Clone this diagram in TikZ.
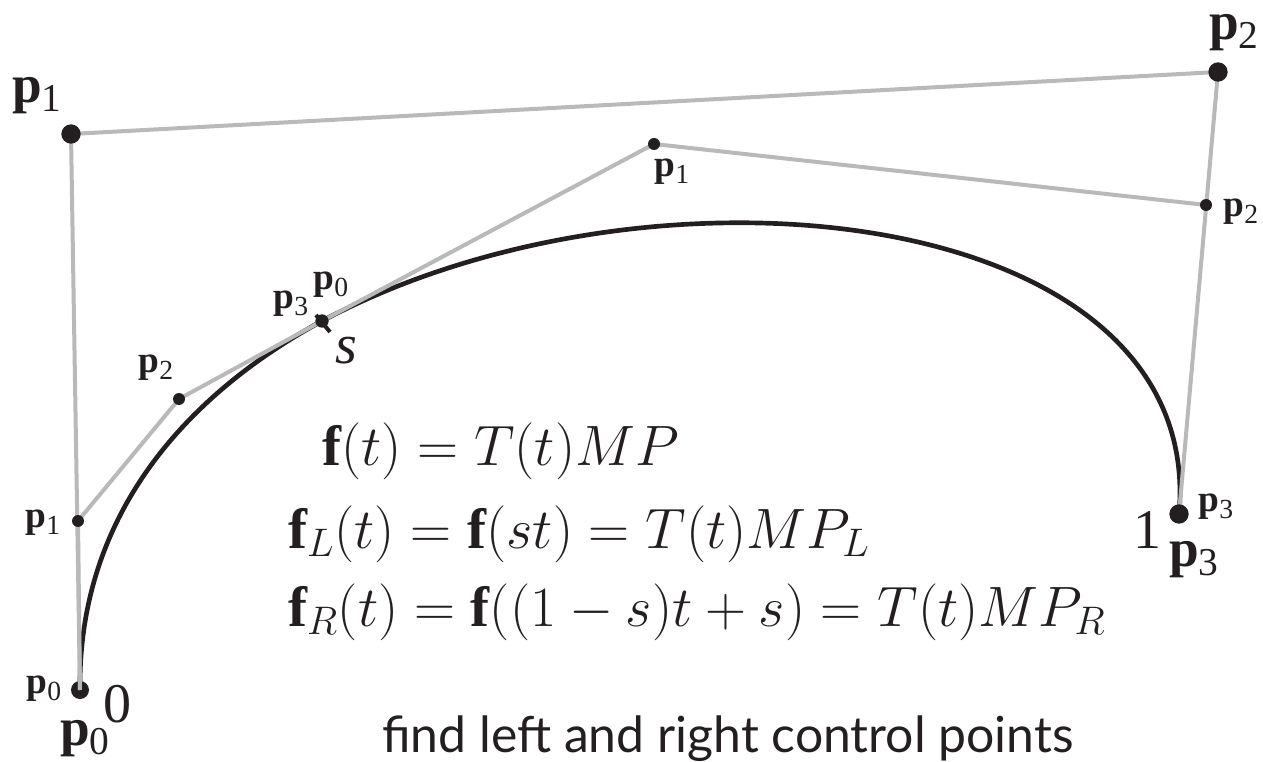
\RequirePackage{fix-cm}
\documentclass[tikz,border=0pt]{standalone}
\usepackage{amsmath}
\usepackage{fontspec}
\setmainfont{Liberation Serif}
\newfontfamily\capfont{Lato}
\newcommand{\ptlab}[1]{\textbf{p}\raisebox{-0.17em}{\scalebox{0.74}{#1}}}
\definecolor{ctrlgray}{HTML}{B9B9BC}
\definecolor{ink}{HTML}{231F20}
\tikzset{
 ctrl/.style={line width=3pt,draw=ctrlgray,line join=round},
 curve/.style={line width=3.5pt,draw=ink},
 big/.style={circle,fill=ink,inner sep=0pt,minimum size=13.5pt},
 small/.style={circle,fill=ink,inner sep=0pt,minimum size=9pt},
 bl/.style={inner sep=0pt,text=ink,font=\fontsize{40}{44}\selectfont},
 sl/.style={inner sep=0pt,text=ink,font=\fontsize{28}{32}\selectfont},
 num/.style={inner sep=0pt,text=ink,font=\fontsize{42}{46}\selectfont},
 eq/.style={inner sep=0pt,anchor=base west,text=ink,font=\fontsize{42.7}{50}\selectfont},
}
\begin{document}
\begin{tikzpicture}[x=0.75pt,y=-0.75pt]
\useasboundingbox (0,0) rectangle (1263,762);
\coordinate (A0) at (80,690); \coordinate (A1) at (71,134); \coordinate (A2) at (1218,72); \coordinate (A3) at (1179,514);
\coordinate (L1) at (78,521); \coordinate (L2) at (179,399); \coordinate (M) at (322,321);
\coordinate (R1) at (654,144); \coordinate (R2) at (1206,205);
\coordinate (T1) at (316,315); \coordinate (T2) at (330,332);
\node[big] (n0) at (A0){};
\draw[curve] (A0) .. controls (L1) and (L2) .. (M) .. controls (R1) and (R2) .. (A3);
\draw[ctrl] (A0)--(A1)--(A2)--(A3);
\draw[ctrl] (A0)--(L1)--(L2)--(M)--(R1)--(R2);
\draw[line width=3pt,ink] (T1)--(T2);
\node[big,minimum size=14.5pt] (n1) at (A1){}; \node[big,minimum size=14.5pt] (n2) at (A2){}; \node[big,minimum size=14.5pt] (n3) at (A3){};
\node[small] (l1) at (L1){}; \node[small] (l2) at (L2){}; \node[small] (r1) at (R1){}; \node[small] (r2) at (R2){}; \node[small,minimum size=10pt] (m) at (M){};
\node[bl] (b1) at (37,96){\ptlab{1}};
\node[bl] (b2) at (1234,33){\ptlab{2}};
\node[bl] (b3) at (1194,560){\ptlab{3}};
\node[bl] (b0) at (85,739){\ptlab{0}};
\node[sl] (s1r) at (672,172){\ptlab{1}};
\node[sl] (s2r) at (1241,212){\ptlab{2}};
\node[sl] (s3r) at (1216,507){\ptlab{3}};
\node[sl] (s3l) at (291,304){\ptlab{3}};
\node[sl] (s0r) at (331,285){\ptlab{0}};
\node[sl] (s2l) at (156,368){\ptlab{2}};
\node[sl] (s1l) at (43,523){\ptlab{1}};
\node[sl] (s0l) at (44,689){\ptlab{0}};
\node[num] (sv) at (346,351){\textit{s}};
\node[num] (zero) at (117,704){0};
\node[num] (one) at (1147,530){1};
\node[eq] (e1) at (322,465){$\mathbf{f}(t) = T(t)MP$};
\node[eq] (e2) at (288,548){$\mathbf{f}_L(t) = \mathbf{f}(st) = T(t)MP_L$};
\node[eq] (e3) at (288,626){$\mathbf{f}_R(t) = \mathbf{f}((1-s)t+s) = T(t)MP_R$};
\node[anchor=base,inner sep=0pt,text=ink,font=\capfont\fontsize{37.4}{42}\selectfont] (cap) at (728,752){find left and right control points};
\end{tikzpicture}
\end{document}
